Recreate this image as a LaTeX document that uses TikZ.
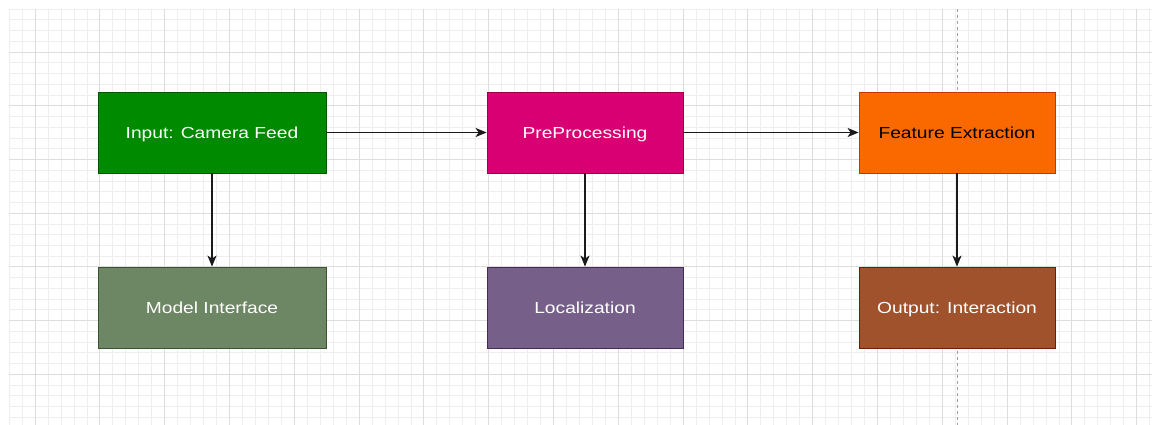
\documentclass[tikz,border=0pt]{standalone}
\usepackage{fontspec}
\setmainfont{Liberation Sans}
\newfontfamily\boxfont[FakeStretch=1.2]{Liberation Sans}
\usetikzlibrary{arrows.meta}
\definecolor{gmin}{HTML}{EEEEEE}
\definecolor{gmaj}{HTML}{DDDDDD}
\definecolor{cgreen}{HTML}{008A00}
\definecolor{sgreen}{HTML}{005700}
\definecolor{colive}{HTML}{6D8764}
\definecolor{solive}{HTML}{3A5431}
\definecolor{cmag}{HTML}{D80073}
\definecolor{smag}{HTML}{A50040}
\definecolor{cviol}{HTML}{76608A}
\definecolor{sviol}{HTML}{432D57}
\definecolor{corange}{HTML}{FA6800}
\definecolor{sorange}{HTML}{C73500}
\definecolor{csienna}{HTML}{A0522D}
\definecolor{ssienna}{HTML}{6D1F00}
\definecolor{guide}{HTML}{A0A0A0}
\definecolor{arrowc}{HTML}{1A1A1A}
\tikzset{
  minorline/.style={gmin, line width=0.6pt},
  majorline/.style={gmaj, line width=0.8pt},
  blockbox/.style={rectangle, draw, line width=0.8pt, inner sep=0pt, minimum height=81pt,
    text height=12.5pt, text depth=0.5pt,
    font=\boxfont\fontsize{16}{19}\selectfont, text=white},
  flow/.style={draw=arrowc, line width=1.3pt, -{Stealth[length=11pt, width=9pt, inset=3pt]}},
  guideline/.style={guide, line width=0.7pt, dash pattern=on 3pt off 3pt}
}
\begin{document}
\begin{tikzpicture}[x=1pt, y=-1pt]
\useasboundingbox (0,0) rectangle (1152,425);
\fill[white] (0,0) rectangle (1152,425);
% grid
\begin{scope}
\clip (9,9) rectangle (1152,425);
\foreach \i in {0,...,88} {
  \pgfmathtruncatemacro{\r}{mod(\i,5)}
  \ifnum\r=2\relax\else\draw[minorline] ({9.1+12.96*\i},9) -- ++(0,416);\fi}
\foreach \i in {0,...,38} {
  \pgfmathtruncatemacro{\r}{mod(\i,5)}
  \ifnum\r=4\relax\else\draw[minorline] (9,{9+10.74*\i}) -- ++(1143,0);\fi}
\foreach \i in {0,...,17} {\draw[majorline] ({35+64.8*\i},9) -- ++(0,416);}
\foreach \i in {0,...,6} {\draw[majorline] (9,{52+53.7*\i}) -- ++(1143,0);}
\end{scope}
\coordinate (gtop) at (957,9);
\coordinate (gbot) at (957,425);
\draw[guideline] (gtop) -- (gbot);
% boxes
\node[blockbox, fill=cgreen, draw=sgreen, minimum width=228pt] (input) at (212,132.5) {Input: Camera Feed};
\node[blockbox, fill=colive, draw=solive, minimum width=228pt] (model) at (212,307.5) {Model Interface};
\node[blockbox, fill=cmag, draw=smag, minimum width=196pt] (pre) at (585,132.5) {PreProcessing};
\node[blockbox, fill=cviol, draw=sviol, minimum width=196pt] (loc) at (585,307.5) {Localization};
\node[blockbox, fill=corange, draw=sorange, minimum width=196pt, text=black] (feat) at (957,132.5) {Feature Extraction};
\node[blockbox, fill=csienna, draw=ssienna, minimum width=196pt] (out) at (957,307.5) {Output: Interaction};
% connectors
\draw[flow] (input) -- (pre);
\draw[flow] (pre) -- (feat);
\draw[flow] (input) -- (model);
\draw[flow] (pre) -- (loc);
\draw[flow] (feat) -- (out);
\end{tikzpicture}
\end{document}
